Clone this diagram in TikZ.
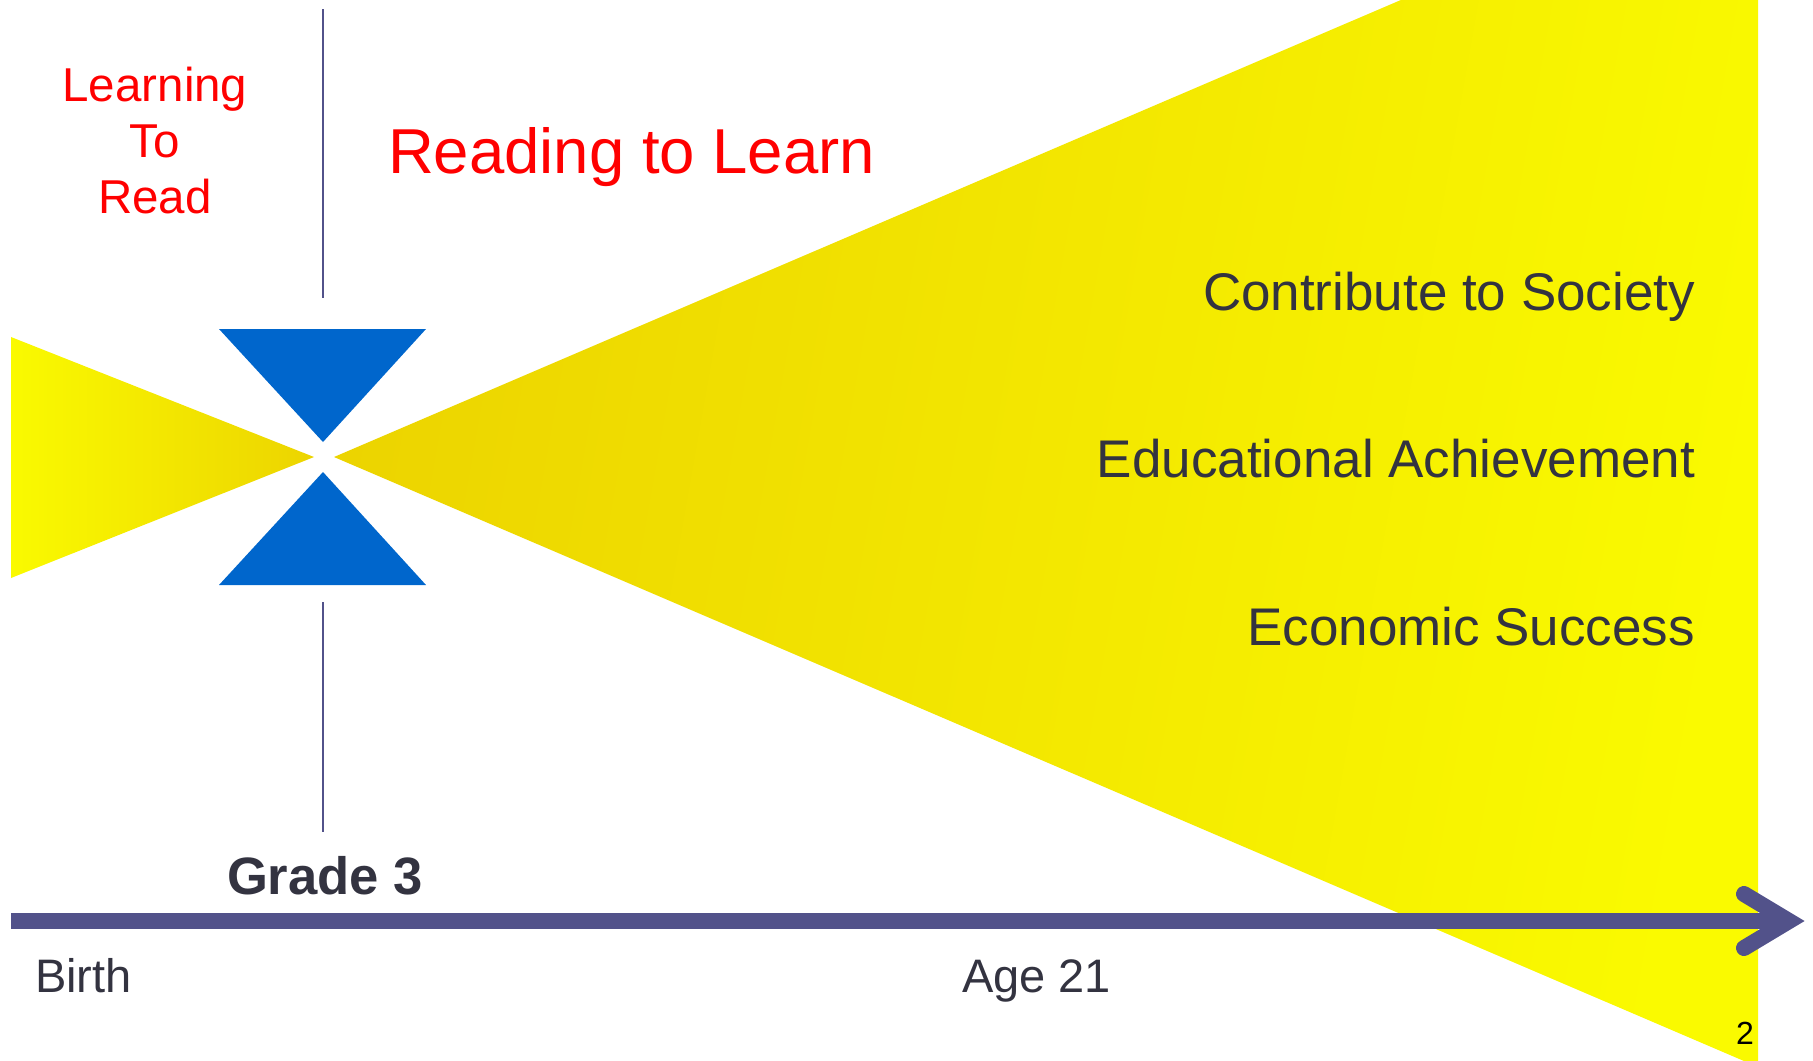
\documentclass[tikz,border=0pt]{standalone}
\usepackage{fontspec}
\setmainfont{Liberation Sans}
\definecolor{txt}{RGB}{51,51,64}
\definecolor{axiscol}{RGB}{82,82,138}
\definecolor{tri}{RGB}{0,102,204}
\definecolor{ylo}{RGB}{250,250,0}
\definecolor{yhi}{RGB}{236,212,0}
\definecolor{redtxt}{RGB}{255,0,0}
\begin{document}
\begin{tikzpicture}[x=0.5pt,y=-0.5pt,
  lbl/.style={inner sep=0pt, outer sep=0pt},
  redlbl/.style={lbl, text=redtxt},
  darklbl/.style={lbl, text=txt},
  divider/.style={draw=axiscol, line width=1pt},
  axisline/.style={draw=axiscol, line width=8pt},
  hourglass/.style={fill=tri}]
\useasboundingbox (0,0) rectangle (1813,1060);
% yellow funnels
\begin{scope}
\clip (0,0) rectangle (1813,1060);
\shade[left color=yhi, right color=ylo, shading angle=80] (334,457) -- (1758,-153) -- (1758,1067) -- cycle;
\end{scope}
\shade[left color=ylo, right color=yhi] (11,337) -- (314,457) -- (11,578) -- cycle;
% hourglass
\fill[hourglass] (219,329) -- (426,329) -- (323,442) -- cycle;
\fill[hourglass] (323,472) -- (426,585) -- (219,585) -- cycle;
% dividers
\coordinate (d1) at (323,9);
\coordinate (d2) at (323,298);
\coordinate (d3) at (323,602);
\coordinate (d4) at (323,832);
\draw[divider] (d1) -- (d2);
\draw[divider] (d3) -- (d4);
% time axis
\coordinate (ax0) at (11,921);
\coordinate (tip) at (1789,921);
\coordinate (armu) at (1744,894);
\coordinate (arml) at (1744,948);
\draw[axisline] (ax0) -- (tip);
\draw[axisline, line cap=round, line join=miter] (armu) -- (tip) -- (arml);
% texts
\node[redlbl, font=\fontsize{23.75}{28}\selectfont, anchor=base] (l1) at (155,101) {Learning};
\node[redlbl, font=\fontsize{23.75}{28}\selectfont, anchor=base] (l2) at (155,157) {To};
\node[redlbl, font=\fontsize{23.75}{28}\selectfont, anchor=base] (l3) at (155,213) {Read};
\node[redlbl, font=\fontsize{31.75}{38}\selectfont, anchor=base west] (rtl) at (388,173) {Reading to Learn};
\node[darklbl, font=\fontsize{26.5}{32}\selectfont, anchor=base east] (c1) at (1695,310) {Contribute to Society};
\node[darklbl, font=\fontsize{26.5}{32}\selectfont, anchor=base east] (c2) at (1695,477) {Educational Achievement};
\node[darklbl, font=\fontsize{26.5}{32}\selectfont, anchor=base east] (c3) at (1695,645) {Economic Success};
\node[darklbl, font=\fontsize{26.3}{32}\selectfont\bfseries, anchor=base] (g3) at (325,894) {Grade 3};
\node[darklbl, font=\fontsize{23.5}{28}\selectfont, anchor=base west] (birth) at (35,992) {Birth};
\node[darklbl, font=\fontsize{23.5}{28}\selectfont, anchor=base west] (age) at (962,992) {Age 21};
\node[lbl, text=black, font=\fontsize{16}{19}\selectfont, anchor=base east] (pg) at (1754,1044) {2};
\end{tikzpicture}
\end{document}
